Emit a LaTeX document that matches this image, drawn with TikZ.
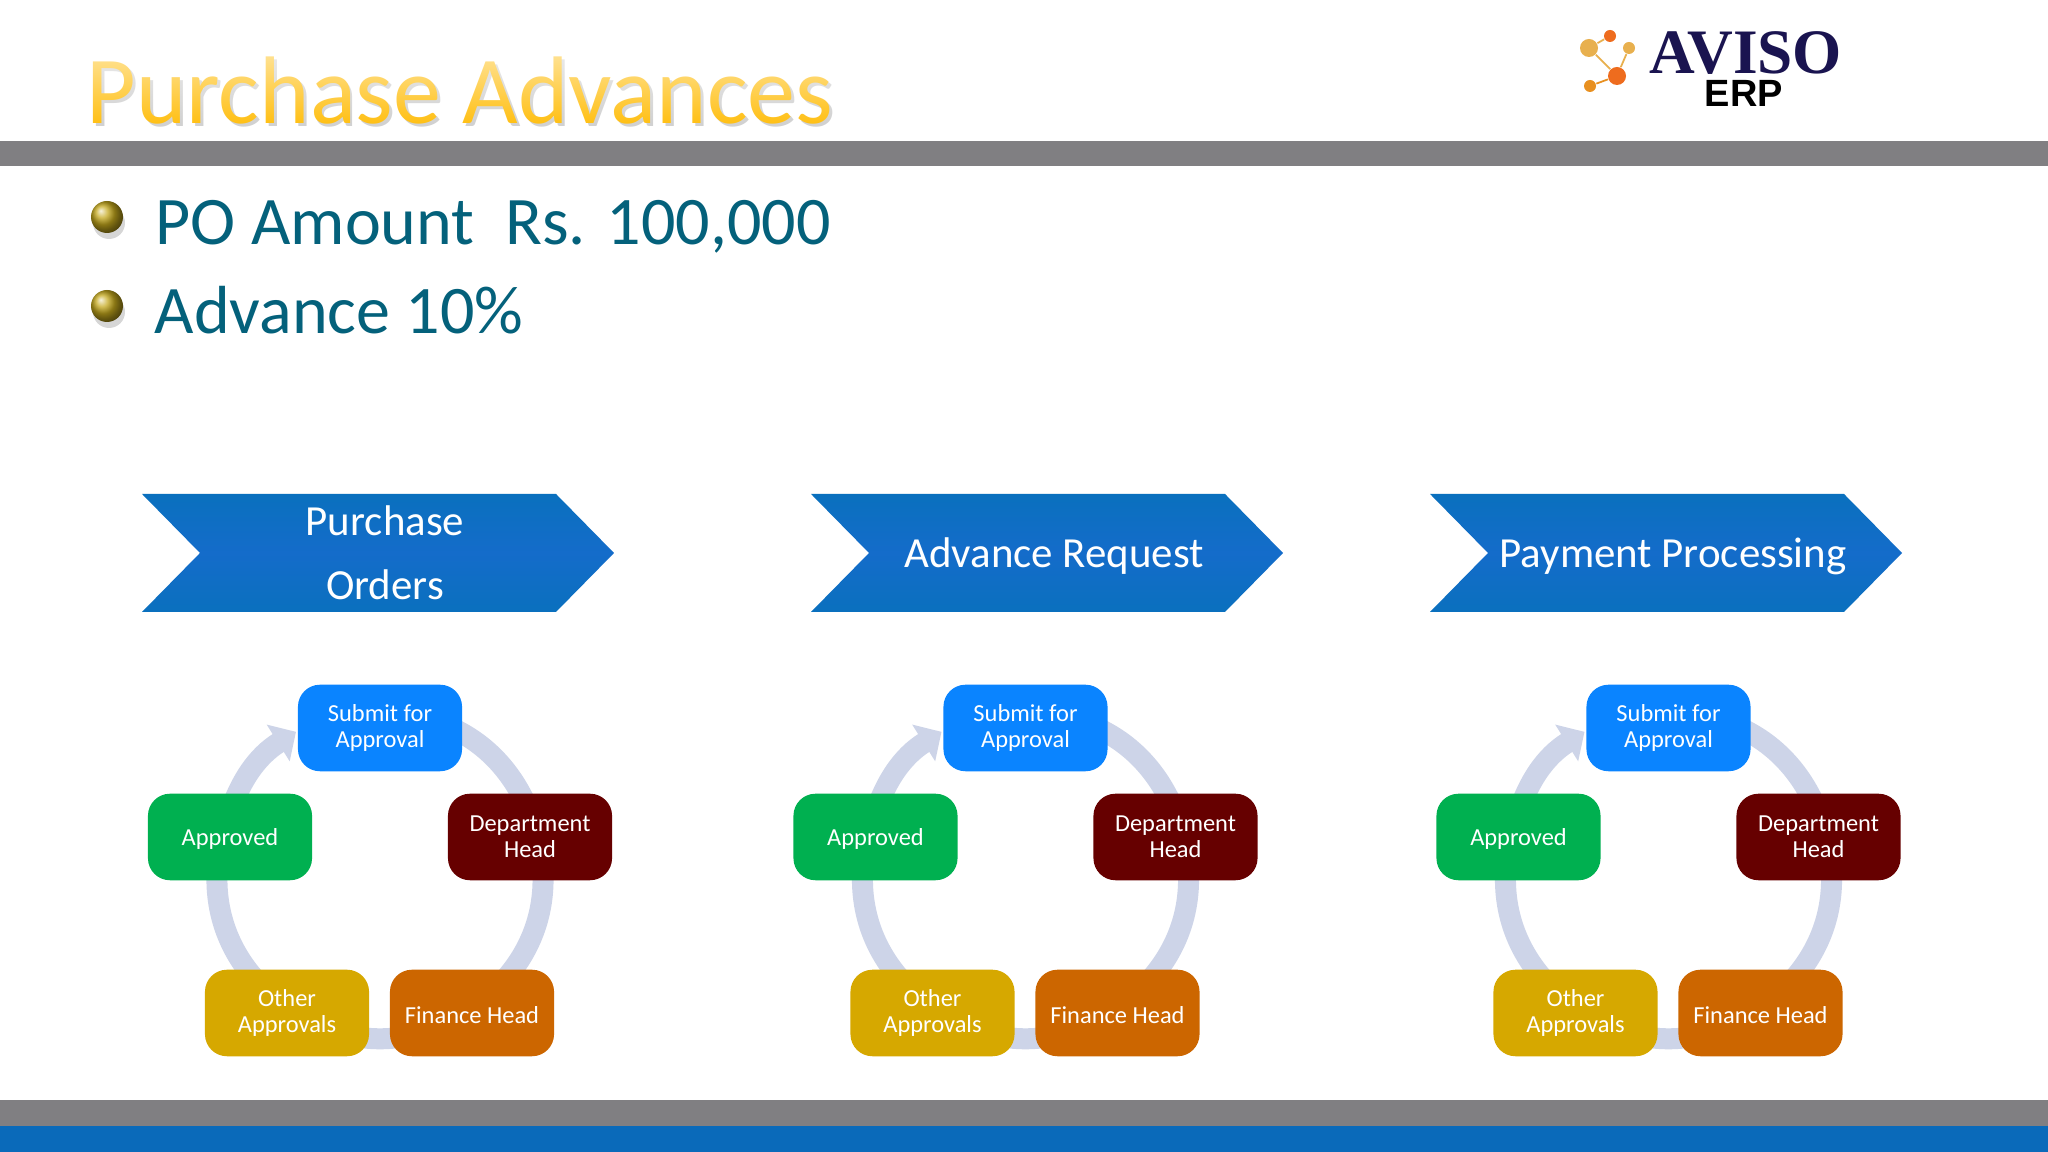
\documentclass[tikz,border=0pt]{standalone}
\usepackage{fontspec}
\setmainfont{Carlito}
\newfontfamily\logoserif{Liberation Serif}
\newfontfamily\logosans{Liberation Sans}
\usetikzlibrary{arrows.meta}
\usetikzlibrary{calc,fadings}
\definecolor{bandgray}{HTML}{807F82}
\definecolor{bandblue}{HTML}{0A6ABA}
\definecolor{bodyteal}{HTML}{04617B}
\definecolor{ringblue}{HTML}{CDD4E8}
\definecolor{chevedge}{HTML}{0A70BE}
\definecolor{chevmid}{HTML}{146CCA}
\definecolor{submitblue}{HTML}{0A84FF}
\definecolor{depthead}{HTML}{660000}
\definecolor{finhead}{HTML}{CC6600}
\definecolor{otherappr}{HTML}{D6A800}
\definecolor{apprgreen}{HTML}{00B050}
\definecolor{logonavy}{HTML}{1A1450}
\definecolor{logotan}{HTML}{E8B04E}
\definecolor{logoorange}{HTML}{EE6C1E}
\definecolor{logoamber}{HTML}{E89020}
\definecolor{titlebot}{HTML}{FFC014}
\definecolor{ballgold}{HTML}{C4A81C}
\tikzset{
	stepbox/.style={rounded corners=0.22cm,minimum width=1.64cm,minimum height=0.865cm,inner sep=0pt,text=white,align=center,font=\fontsize{6.95}{7.25}\selectfont,execute at begin node={\rule{0pt}{0.85em}}},
	ringline/.style={ringblue,line width=0.21cm},
	logodot/.style={circle,inner sep=0pt,minimum size=#1},
	logoline/.style={line width=0.5pt,draw=#1}
}
\begin{document}
\begin{tikzpicture}[x=0.01cm,y=0.01cm]
	\useasboundingbox (0,0) rectangle (2048,1152);
	\fill[white] (0,0) rectangle (2048,1152);
	
	% bands
	\fill[bandgray] (0,986) rectangle (2048,1011);
	\fill[bandgray] (0,26) rectangle (2048,52);
	\fill[bandblue] (0,0) rectangle (2048,26);
	
	% title
	\node[inner sep=0pt,text=black!45,opacity=0.4,font=\fontsize{27.3}{30}\selectfont] (titleshadow) at (463,1058) {Purchase Advances};
	\node[inner sep=0pt,text=titlebot,font=\fontsize{27.3}{30}\selectfont] (title) at (460,1061) {Purchase Advances};
	\fill[white,path fading=south,fill opacity=0.62] (60,1028) rectangle (860,1108);
	
	% bullets
	\foreach \y in {935,846}{
		\fill[black!35,opacity=0.45] (109,\y-6) circle (16);
		\shade[ball color=ballgold] (107,\y) circle (16);
	}
	\node[anchor=base west,inner sep=0pt,text=bodyteal,font=\fontsize{19.35}{20}\selectfont] (amount) at (155,907) {PO Amount\ \ Rs. 100,000};
	\node[anchor=base west,inner sep=0pt,text=bodyteal,font=\fontsize{19.35}{20}\selectfont] (advance) at (154,818) {Advance 10\%};
	
	% logo
	\node[logodot=0.18cm,fill=logotan] (lgA) at (1589,1104) {};
	\node[logodot=0.12cm,fill=logoorange] (lgB) at (1610,1116) {};
	\node[logodot=0.12cm,fill=logotan] (lgC) at (1629,1104) {};
	\node[logodot=0.18cm,fill=logoorange] (lgD) at (1617,1076) {};
	\node[logodot=0.12cm,fill=logoamber] (lgE) at (1590,1066) {};
	\draw[logoline=logotan] (lgA) -- (lgB);
	\draw[logoline=logotan] (lgA) -- (lgD);
	\draw[logoline=logotan] (lgC) -- (lgD);
	\draw[logoline=logoamber] (lgE) -- (lgD);
	\node[anchor=base,inner sep=0pt,text=logonavy,font=\logoserif\bfseries\fontsize{18}{18}\selectfont] (aviso) at (1746,1078) {AVISO};
	\node[anchor=base,inner sep=0pt,text=black,font=\logosans\bfseries\fontsize{10.8}{11}\selectfont] (erp) at (1744,1045) {ERP};
	
	% chevrons
	\foreach \nm/\x/\ty/\lbl in {po/142/599/{Purchase\\[0.15cm]Orders},req/811/596/{Advance Request},pay/1430/596/{Payment Processing}}{
		\shade[top color=chevedge,bottom color=chevedge,middle color=chevmid] (\x,658) -- (\x+414,658) -- (\x+472,599) -- (\x+414,540) -- (\x,540) -- (\x+58,599) -- cycle;
		\node[text=white,align=center,inner sep=0pt,font=\fontsize{12.2}{14}\selectfont] (chev\nm) at (\x+243,\ty) {\lbl};
	}
	
	% cycles
	\foreach \nm/\dx in {po/380,req/1025.5,pay/1668.5}{
		\begin{scope}[shift={(\dx,277)}]
			\coordinate (ring1\nm) at (90:162);
			\coordinate (ring2\nm) at (18:162);
			\coordinate (ring3\nm) at (-54:162);
			\coordinate (ring4\nm) at (-126:162);
			\coordinate (ring5\nm) at (162:162);
			\coordinate (tip\nm) at (120.4:166);
			\draw[ringline] (ring1\nm) to[bend left=36] (ring2\nm);
			\draw[ringline] (ring2\nm) to[bend left=36] (ring3\nm);
			\draw[ringline] (ring3\nm) to[bend left=36] (ring4\nm);
			\draw[ringline] (ring4\nm) to[bend left=36] (ring5\nm);
			\draw[ringline,-{Triangle[length=0.21cm,width=0.42cm]}] (ring5\nm) to[bend left=21] (tip\nm);
			\node[stepbox,fill=submitblue] (submit\nm) at (0,147) {Submit for\\Approval};
			\node[stepbox,fill=depthead] (dept\nm) at (150,38) {Department\\Head};
			\node[stepbox,fill=finhead] (fin\nm) at (92,-138) {Finance Head};
			\node[stepbox,fill=otherappr] (other\nm) at (-93,-138) {Other\\Approvals};
			\node[stepbox,fill=apprgreen] (appr\nm) at (-150,38) {Approved};
		\end{scope}
	}
\end{tikzpicture}
\end{document}
